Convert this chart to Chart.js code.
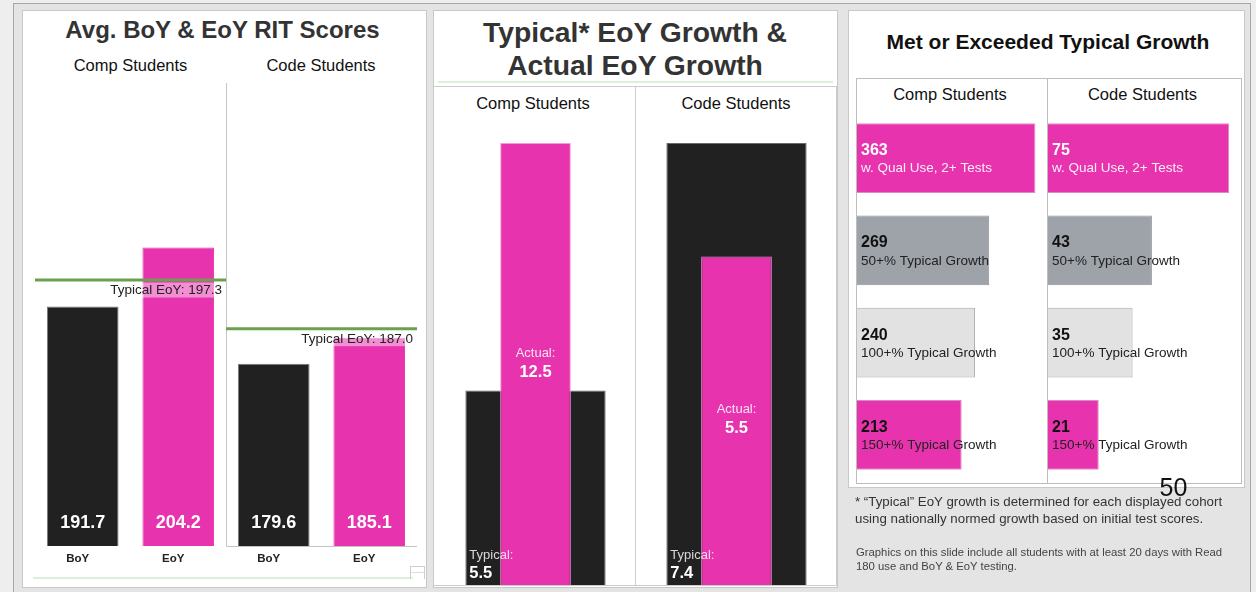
<!DOCTYPE html>
<html>
<head>
<meta charset="utf-8">
<script src="https://cdn.jsdelivr.net/npm/chart.js@4/dist/chart.umd.min.js"></script>
<style>
  html, body { margin: 0; padding: 0; }
  body { width: 1256px; height: 592px; overflow: hidden; position: relative; background: #eeeeee;
         font-family: 'Liberation Sans', Arial, sans-serif; }
  .abs { position: absolute; box-sizing: border-box; }
  .frame { left: 13px; top: 3px; width: 1238px; height: 620px; background: #e4e4e4; border: 1px solid #a6a6a6; }
  .panel { background: #fff; border: 1px solid #c8c8c8; }
  .t { position: absolute; white-space: nowrap; text-align: center; }
  .title { font-weight: bold; color: #333; }
  .sub { font-size: 16.5px; color: #111; height: 20px; line-height: 20px; }
  canvas { position: absolute; }
  .line { position: absolute; }
</style>
</head>
<body>
<div class="abs frame"></div>

<!-- panel 1: average RIT scores -->
<div class="abs panel" style="left:22px;top:10px;width:405px;height:578px;"></div>
<div class="t title" style="left:22.5px;top:15px;width:400px;height:30px;line-height:30px;font-size:24px;">Avg. BoY &amp; EoY RIT Scores</div>
<div class="t sub" style="left:30.5px;top:55px;width:200px;">Comp Students</div>
<div class="t sub" style="left:221px;top:55px;width:200px;">Code Students</div>
<div class="line" style="left:33px;top:577px;width:380px;height:2px;background:#dcefdc;"></div>
<div class="abs" style="left:410px;top:566px;width:15px;height:13px;border:1px solid #cfcfcf;border-bottom:none;"></div>
<div class="line" style="left:411px;top:572px;width:13px;height:1px;background:#dcdcdc;"></div>
<canvas id="ritComp" width="191" height="487" style="left:35px;top:83px;"></canvas>
<canvas id="ritCode" width="191" height="487" style="left:226px;top:83px;"></canvas>

<!-- panel 2: typical vs actual growth -->
<div class="abs panel" style="left:433px;top:10px;width:405px;height:578px;"></div>
<div class="t title" style="left:435px;top:15.5px;width:400px;line-height:33px;font-size:28.3px;">Typical* EoY Growth &amp;<br>Actual EoY Growth</div>
<div class="line" style="left:438px;top:81px;width:395px;height:2px;background:#dcf0dc;"></div>
<div class="abs" style="left:434px;top:86px;width:403px;height:500px;border:1px solid #cccccc;border-left:none;"></div>
<div class="line" style="left:635px;top:86px;width:1px;height:499px;background:#cccccc;"></div>
<div class="t sub" style="left:433px;top:93px;width:200px;">Comp Students</div>
<div class="t sub" style="left:636px;top:93px;width:200px;">Code Students</div>
<canvas id="growthComp" width="199" height="442" style="left:436px;top:143px;"></canvas>
<canvas id="growthCode" width="199" height="442" style="left:637px;top:143px;"></canvas>

<!-- panel 3: met or exceeded typical growth -->
<div class="abs panel" style="left:848px;top:10px;width:397px;height:478px;"></div>
<div class="t title" style="left:848px;top:30px;width:400px;height:24px;line-height:24px;font-size:21px;color:#111;">Met or Exceeded Typical Growth</div>
<div class="abs" style="left:856px;top:78px;width:386px;height:406px;border:1px solid #bdbdbd;"></div>
<div class="line" style="left:1047px;top:78px;width:1px;height:406px;background:#bdbdbd;"></div>
<div class="t sub" style="left:850px;top:84px;width:200px;">Comp Students</div>
<div class="t sub" style="left:1042.5px;top:84px;width:200px;">Code Students</div>
<canvas id="metComp" width="190" height="369" style="left:857px;top:112px;"></canvas>
<canvas id="metCode" width="193" height="369" style="left:1048px;top:112px;"></canvas>

<div class="t" style="left:1133.5px;top:472px;width:80px;height:30px;line-height:30px;font-size:25px;color:#111;">50</div>
<div class="t" style="left:855px;top:492.5px;text-align:left;font-size:13.3px;line-height:17px;color:#333;">* “Typical” EoY growth is determined for each displayed cohort<br>using nationally normed growth based on initial test scores.</div>
<div class="t" style="left:856px;top:545px;text-align:left;font-size:11.3px;line-height:14px;color:#444;">Graphics on this slide include all students with at least 20 days with Read<br>180 use and BoY &amp; EoY testing.</div>

<script>
// ---- data ----
const ritTerms = ['BoY', 'EoY'];
const ritComp = [191.7, 204.2];
const ritCode = [179.6, 185.1];
const typicalEoYComp = 197.3;
const typicalEoYCode = 187.0;

const growthCohorts = ['Comp Students', 'Code Students'];
const growthTypical = [5.5, 7.4];
const growthActual = [12.5, 5.5];

const metLabels = ['w. Qual Use, 2+ Tests', '50+% Typical Growth', '100+% Typical Growth', '150+% Typical Growth'];
const metComp = [363, 269, 240, 213];
const metCode = [75, 43, 35, 21];

// ---- styling ----
const FONT = "'Liberation Sans', Arial, sans-serif";
const PINK = '#e833ae';
const BLACK = '#212121';
const GREY = '#9ea2a9';
const LIGHT = '#e2e2e2';
const GREEN = '#6ca04f';

Chart.defaults.font.family = FONT;
Chart.defaults.animation = false;

const baseOptions = () => ({
  responsive: false,
  maintainAspectRatio: false,
  animation: false,
  events: [],
  layout: { padding: 0 },
  plugins: { legend: { display: false }, tooltip: { enabled: false } }
});

// bar values, typical EoY reference line and its caption
const ritMarks = {
  id: 'ritMarks',
  beforeDatasetsDraw(chart, args, opts) {
    if (!opts.boxed) return;
    const { ctx, chartArea: a } = chart;
    ctx.save();
    ctx.strokeStyle = '#c4c4c4';
    ctx.lineWidth = 1;
    ctx.beginPath();
    ctx.moveTo(a.left + 0.5, a.top);
    ctx.lineTo(a.left + 0.5, a.bottom + 0.5);
    ctx.lineTo(a.right, a.bottom + 0.5);
    ctx.stroke();
    ctx.restore();
  },
  afterDatasetsDraw(chart, args, opts) {
    const { ctx, chartArea: a } = chart;
    const y = chart.scales.y;
    const values = chart.data.datasets[0].data;
    ctx.save();
    ctx.textAlign = 'center';
    ctx.textBaseline = 'middle';
    ctx.fillStyle = '#fff';
    ctx.font = `bold 18px ${FONT}`;
    chart.getDatasetMeta(0).data.forEach((bar, i) => {
      ctx.fillText(values[i].toFixed(1), bar.x, a.bottom - 23);
    });
    const ty = y.getPixelForValue(opts.typical);
    ctx.strokeStyle = GREEN;
    ctx.lineWidth = 3;
    ctx.beginPath();
    ctx.moveTo(a.left, ty);
    ctx.lineTo(a.right, ty);
    ctx.stroke();
    const caption = 'Typical EoY: ' + opts.typical.toFixed(1);
    ctx.font = `13.5px ${FONT}`;
    const w = ctx.measureText(caption).width;
    ctx.fillStyle = 'rgba(255,255,255,0.45)';
    ctx.fillRect(a.right - 6 - w, ty + 2.5, w + 4, 15);
    ctx.fillStyle = '#222';
    ctx.textAlign = 'right';
    ctx.fillText(caption, a.right - 4, ty + 10.5);
    ctx.restore();
  }
};

function ritChart(id, values, typical, boxed) {
  const opts = baseOptions();
  opts.plugins.ritMarks = { typical, boxed };
  opts.scales = {
    x: {
      grid: { display: false, drawTicks: false },
      border: { display: false },
      ticks: { padding: 6, labelOffset: -5, color: '#222', font: { size: 11.5, weight: 'bold' } },
      afterFit: (axis) => { axis.height = 24; }
    },
    y: { display: false, min: 141, max: 239 }
  };
  return new Chart(document.getElementById(id), {
    type: 'bar',
    data: {
      labels: ritTerms,
      datasets: [{
        data: values,
        backgroundColor: [BLACK, PINK],
        borderColor: ['#7a7a7a', PINK],
        borderWidth: 1,
        borderSkipped: 'bottom',
        barPercentage: 0.75,
        categoryPercentage: 1
      }]
    },
    options: opts,
    plugins: [ritMarks]
  });
}

// "Actual:" caption centred in the inner bar, "Typical:" caption at the foot of the wide bar
const growthMarks = {
  id: 'growthMarks',
  afterDatasetsDraw(chart) {
    const { ctx } = chart;
    const actualBar = chart.getDatasetMeta(0).data[0];
    const typicalBar = chart.getDatasetMeta(1).data[0];
    const actual = chart.data.datasets[0].data[0];
    const typical = chart.data.datasets[1].data[0];
    const mid = (actualBar.y + actualBar.base) / 2;
    ctx.save();
    ctx.textBaseline = 'middle';
    ctx.textAlign = 'center';
    ctx.font = `13px ${FONT}`;
    ctx.fillStyle = 'rgba(255,255,255,0.85)';
    ctx.fillText('Actual:', actualBar.x, mid - 11);
    ctx.font = `bold 16.5px ${FONT}`;
    ctx.fillStyle = '#fff';
    ctx.fillText(actual.toFixed(1), actualBar.x, mid + 8);
    const left = typicalBar.x - typicalBar.width / 2 + 4;
    ctx.textAlign = 'left';
    ctx.font = `13px ${FONT}`;
    ctx.fillStyle = 'rgba(255,255,255,0.82)';
    ctx.fillText('Typical:', left, typicalBar.base - 30);
    ctx.font = `bold 16.5px ${FONT}`;
    ctx.fillStyle = '#fff';
    ctx.fillText(typical.toFixed(1), left, typicalBar.base - 12);
    ctx.restore();
  }
};

function growthChart(id, idx) {
  const typical = growthTypical[idx];
  const actual = growthActual[idx];
  const opts = baseOptions();
  opts.scales = {
    x: { display: false },
    y: { display: false, min: 0, max: Math.max(typical, actual) }
  };
  return new Chart(document.getElementById(id), {
    type: 'bar',
    data: {
      labels: [growthCohorts[idx]],
      datasets: [
        { label: 'Actual', data: [actual], backgroundColor: PINK, borderColor: '#f29ad6', borderWidth: 1,
          borderSkipped: 'bottom', barPercentage: 0.355, categoryPercentage: 1, grouped: false, order: 0 },
        { label: 'Typical', data: [typical], backgroundColor: BLACK, borderColor: '#6a6a6a', borderWidth: 1,
          borderSkipped: 'bottom', barPercentage: 0.705, categoryPercentage: 1, grouped: false, order: 1 }
      ]
    },
    options: opts,
    plugins: [growthMarks]
  });
}

// count and category caption written at the start of each horizontal bar
const metMarks = {
  id: 'metMarks',
  afterDatasetsDraw(chart) {
    const { ctx } = chart;
    const values = chart.data.datasets[0].data;
    ctx.save();
    ctx.textAlign = 'left';
    ctx.textBaseline = 'middle';
    chart.getDatasetMeta(0).data.forEach((bar, i) => {
      const left = bar.base + 4;
      const onPinkTop = i === 0;
      ctx.font = `bold 16px ${FONT}`;
      ctx.fillStyle = onPinkTop ? '#fff' : '#111';
      ctx.fillText(String(values[i]), left, bar.y - 7.5);
      ctx.font = `13.5px ${FONT}`;
      ctx.fillStyle = onPinkTop ? 'rgba(255,255,255,0.92)' : '#222';
      ctx.fillText(chart.data.labels[i], left, bar.y + 10.5);
    });
    ctx.restore();
  }
};

const metHeadroom = 1.065;
function metChart(id, values) {
  const opts = baseOptions();
  opts.indexAxis = 'y';
  opts.scales = {
    x: { display: false, min: 0, max: Math.max(...values) * metHeadroom },
    y: { display: false }
  };
  return new Chart(document.getElementById(id), {
    type: 'bar',
    data: {
      labels: metLabels,
      datasets: [{
        data: values,
        backgroundColor: [PINK, GREY, LIGHT, PINK],
        borderColor: ['#d98cc4', '#8f939a', '#a9a9a9', '#d98cc4'],
        borderWidth: 1,
        borderSkipped: 'left',
        barPercentage: 0.755,
        categoryPercentage: 1
      }]
    },
    options: opts,
    plugins: [metMarks]
  });
}

ritChart('ritComp', ritComp, typicalEoYComp, false);
ritChart('ritCode', ritCode, typicalEoYCode, true);
growthChart('growthComp', 0);
growthChart('growthCode', 1);
metChart('metComp', metComp);
metChart('metCode', metCode);
</script>
</body>
</html>
